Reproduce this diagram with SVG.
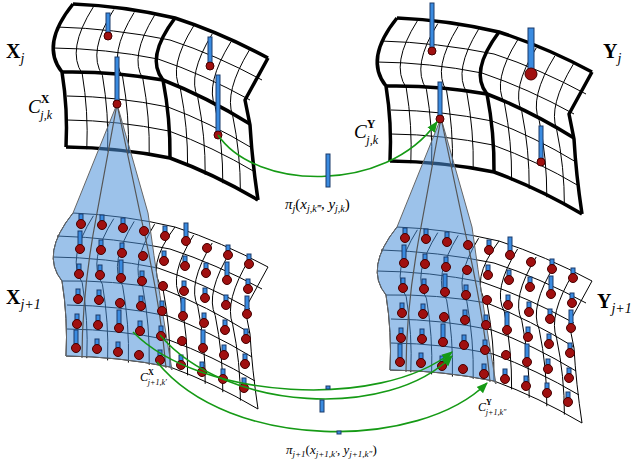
<svg xmlns="http://www.w3.org/2000/svg" xmlns:xlink="http://www.w3.org/1999/xlink" width="640" height="459" viewBox="0 0 640 459">
<style>
.tk{fill:none;stroke:#000;stroke-width:3.5;stroke-linejoin:round}
.tn{fill:none;stroke:#000;stroke-width:1}
.cone{fill:#4a8fd8;fill-opacity:.55;stroke:#666;stroke-width:1}
.cl{fill:none;stroke:#555;stroke-width:1.2}
.bar{fill:#3a8be0;stroke:#1a3a6a;stroke-width:1}
.dot{fill:#a01010;stroke:#400;stroke-width:1}
.g{fill:none;stroke:#159a15;stroke-width:1.6}
text{font-family:"Liberation Serif",serif;fill:#000}
.lb{font-size:20px}
</style>
<defs>
<marker id="ah" viewBox="0 0 10 10" refX="9" refY="5" markerWidth="7" markerHeight="7" orient="auto"><path d="M0,1 L10,5 L0,9 Z" fill="#159a15"/></marker>
<g id="thin">
<path d="M57,27 Q113.5,28.5 170,40 Q216,55 262,80"/>
<path d="M53,48 Q105.5,48.5 158,59 Q204,74.5 250,100"/>
<path d="M67,96 Q117.5,96.5 168,107 Q210,122.5 252,148"/>
<path d="M67,120 Q118,120.5 169,131 Q212,146.5 255,172"/>
<path d="M93.4,6.8 Q66,50 82.2,73.6 Q88.5,111.4 86.8,149.2"/>
<path d="M113.8,9.6 Q87,52 102.4,75.2 Q109,113.3 107.6,151.4"/>
<path d="M134.2,12.4 Q108,55 122.6,76.8 Q129.5,115.2 128.4,153.6"/>
<path d="M154.6,15.2 Q129,57 142.8,78.4 Q150,117 149.2,155.8"/>
<path d="M193.6,26 Q168,67 180.4,88.8 Q188,127.6 187.6,166.4"/>
<path d="M212.2,34 Q187,75 197.8,97.6 Q205.5,136.2 205.2,174.8"/>
<path d="M230.8,42 Q205,84 215.2,106.4 Q223,144.8 222.8,183.2"/>
<path d="M249.4,50 Q224,92 232.6,115.2 Q240.5,153.4 240.4,191.6"/>
</g>
<g id="frame">
<path d="M73,4 Q124,6 175,18 Q221.5,33 268,58"/>
<path d="M62,72 Q112.5,71 163,80 Q206.5,97 250,124"/>
<path d="M66,147 Q118,147.5 170,158 Q214,174 258,200"/>
<path d="M73,4 Q40,45 62,72 Q68,109.5 66,147"/>
<path d="M175,18 Q145,58 163,80 Q170.5,119 170,158"/>
<path d="M268,58 L245,100 L250,125 Q252,160 258,200"/>
</g>
<g id="topgrid">
<use href="#thin" class="tn"/>
<use href="#frame" class="tk"/>
</g>
<g id="lowgrid">
<use href="#thin"/>
<use href="#frame"/>
</g>
<g id="cone">
<path class="cone" d="M117,104 L73,213 Q40,254 62,281 Q68,318.5 66,356 Q118,356.5 170,367 L172,370 Q160,300 148,213 Z"/>
<path class="cl" d="M117,104 L97,213 Q82,290 82,358"/>
<path class="cl" d="M117,104 L140,213 Q160,300 166,368"/>
</g>
<g id="d"><rect class="bar" x="-2" y="-10" width="4" height="6"/><circle class="dot" cx="0" cy="0" r="4.5"/></g>
<g id="t"><rect class="bar" x="-2" y="-18" width="4" height="14"/><circle class="dot" cx="0" cy="0" r="4.5"/></g>
<g id="o"><circle class="dot" cx="0" cy="0" r="4.5"/></g>
<g id="dots">
<use href="#d" x="81" y="224"/><use href="#d" x="102" y="225"/><use href="#d" x="123" y="228"/><use href="#o" x="144" y="231"/><use href="#d" x="165" y="236"/><use href="#t" x="186" y="241"/><use href="#o" x="207" y="248"/><use href="#d" x="228" y="255"/><use href="#d" x="249" y="264"/>
<use href="#t" x="80" y="249"/><use href="#d" x="101" y="250"/><use href="#d" x="122" y="253"/><use href="#o" x="143" y="256"/><use href="#d" x="164" y="261"/><use href="#d" x="185" y="266"/><use href="#d" x="206" y="273"/><use href="#t" x="227" y="280"/><use href="#d" x="248" y="289"/>
<use href="#d" x="79" y="274"/><use href="#d" x="100" y="275"/><use href="#t" x="121" y="278"/><use href="#d" x="142" y="281"/><use href="#o" x="163" y="286"/><use href="#d" x="184" y="291"/><use href="#d" x="205" y="298"/><use href="#d" x="226" y="305"/><use href="#t" x="247" y="314"/>
<use href="#d" x="78" y="299"/><use href="#d" x="99" y="300"/><use href="#o" x="120" y="303"/><use href="#d" x="141" y="306"/><use href="#d" x="162" y="311"/><use href="#t" x="183" y="316"/><use href="#d" x="204" y="323"/><use href="#d" x="225" y="330"/><use href="#d" x="246" y="339"/>
<use href="#d" x="77" y="324"/><use href="#d" x="98" y="325"/><use href="#t" x="119" y="328"/><use href="#d" x="140" y="331"/><use href="#d" x="161" y="336"/><use href="#o" x="182" y="341"/><use href="#t" x="203" y="348"/><use href="#d" x="224" y="355"/><use href="#d" x="245" y="364"/>
<use href="#t" x="76" y="348"/><use href="#d" x="97" y="349"/><use href="#d" x="118" y="352"/><use href="#o" x="139" y="355"/><use href="#d" x="160" y="360"/><use href="#d" x="181" y="365"/><use href="#d" x="202" y="372"/><use href="#d" x="223" y="379"/><use href="#d" x="244" y="388"/>
</g>
<g id="lowerset">
<use href="#lowgrid" class="tn" transform="translate(0,209)"/>
<use href="#cone"/>
<use href="#dots"/>
</g>
</defs>

<g id="Xj">
<use href="#topgrid"/>
<rect class="bar" x="106" y="13" width="4" height="22"/><circle class="dot" cx="108" cy="36" r="4"/>
<rect class="bar" x="208" y="37" width="4" height="28"/><circle class="dot" cx="210" cy="66" r="4"/>
<rect class="bar" x="216" y="75" width="4" height="59"/><circle class="dot" cx="218" cy="135" r="4"/>
<text class="lb" x="6" y="58" font-weight="bold">X<tspan font-size="14" font-style="italic" font-weight="normal" dy="5">j</tspan></text>
</g>
<g id="Yj">
<use href="#topgrid" transform="translate(324,14)"/>
<rect class="bar" x="430" y="3" width="4" height="47"/><circle class="dot" cx="432" cy="51" r="4"/>
<rect class="bar" x="528" y="28" width="6" height="45"/><circle class="dot" cx="531" cy="74" r="6"/>
<rect class="bar" x="539" y="126" width="4" height="36"/><circle class="dot" cx="541" cy="162" r="4"/>
<text class="lb" x="603" y="58" font-weight="bold">Y<tspan font-size="14" font-style="italic" font-weight="normal" dy="5">j</tspan></text>
</g>
<g id="Xj1">
<use href="#lowerset"/>
<text class="lb" x="6" y="304" font-weight="bold">X<tspan font-size="14" font-style="italic" font-weight="normal" dy="5">j+1</tspan></text>
</g>
<g id="Yj1">
<use href="#lowerset" transform="translate(324,14)"/>
<text class="lb" x="597" y="308" font-weight="bold">Y<tspan font-size="14" font-style="italic" font-weight="normal" dy="5">j+1</tspan></text>
</g>
<g id="Cx">
<rect class="bar" x="115" y="57" width="4" height="46"/><circle class="dot" cx="117" cy="104" r="4"/>
<text x="28" y="113" font-size="19" font-style="italic">C<tspan font-size="12" font-style="normal" font-weight="bold" dy="-10">X</tspan><tspan font-size="12" dx="-9" dy="16">j,k</tspan></text>
</g>
<g id="Cy">
<rect class="bar" x="438" y="82" width="4" height="36"/><circle class="dot" cx="440" cy="119" r="4"/>
<text x="354" y="138" font-size="19" font-style="italic">C<tspan font-size="12" font-style="normal" font-weight="bold" dy="-10">Y</tspan><tspan font-size="12" dx="-9" dy="16">j,k</tspan></text>
</g>
<g id="connectors">
<path class="g" d="M218,135 C255,190 385,195 437,122" marker-end="url(#ah)"/>
<path class="g" d="M133,332 C200,400 380,410 452,352" marker-end="url(#ah)"/>
<path class="g" d="M160,335 C225,412 390,420 452,356" marker-end="url(#ah)"/>
<path class="g" d="M157,362 C230,452 420,450 487,383" marker-end="url(#ah)"/>
</g>
<g id="pi">
<rect class="bar" x="326" y="154" width="4" height="33"/>
<rect class="bar" x="326" y="386" width="4" height="3"/>
<rect class="bar" x="320" y="400" width="4" height="12"/>
<rect class="bar" x="337" y="431" width="4" height="3"/>
<text x="285" y="209" font-size="15" font-style="italic">π<tspan font-size="10" dy="3">j</tspan><tspan dy="-3" font-style="normal">(</tspan>x<tspan font-size="10" dy="3">j,k‴</tspan><tspan dy="-3" font-style="normal">, </tspan>y<tspan font-size="10" dy="3">j,k</tspan><tspan dy="-3" font-style="normal">)</tspan></text>
<text x="286" y="454" font-size="13" font-style="italic">π<tspan font-size="9" dy="3">j+1</tspan><tspan dy="-3" font-style="normal">(</tspan>x<tspan font-size="9" dy="3">j+1,k′</tspan><tspan dy="-3" font-style="normal">, </tspan>y<tspan font-size="9" dy="3">j+1,k″</tspan><tspan dy="-3" font-style="normal">)</tspan></text>
<text x="140" y="381" font-size="12" font-style="italic">C<tspan font-size="8" font-style="normal" font-weight="bold" dy="-6">X</tspan><tspan font-size="8" dx="-6" dy="10">j+1,k′</tspan></text>
<text x="478" y="411" font-size="12" font-style="italic">C<tspan font-size="8" font-style="normal" font-weight="bold" dy="-6">Y</tspan><tspan font-size="8" dx="-6" dy="10">j+1,k″</tspan></text>
</g>
</svg>
